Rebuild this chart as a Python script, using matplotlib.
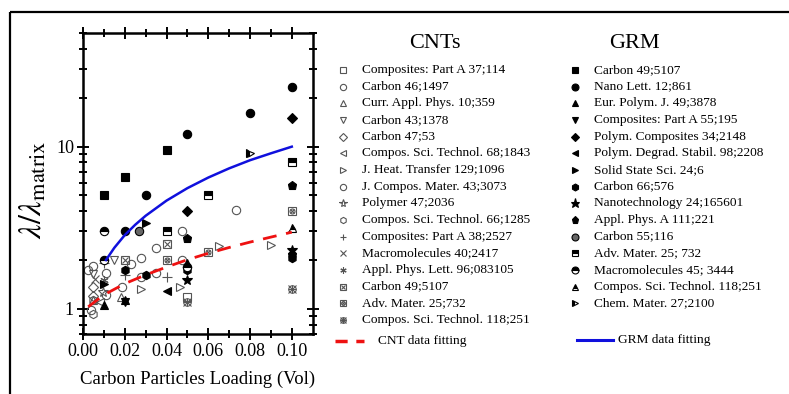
import matplotlib
matplotlib.use('Agg')
import matplotlib.pyplot as plt
import numpy as np

plt.rcParams['font.family'] = 'Liberation Serif'
plt.rcParams['mathtext.fontset'] = 'stix'

# ---- CNT data (open grey symbols) ----
cnt_names = ['Composites: Part A 37;114', 'Carbon 46;1497', 'Curr. Appl. Phys. 10;359',
             'Carbon 43;1378', 'Carbon 47;53', 'Compos. Sci. Technol. 68;1843',
             'J. Heat. Transfer 129;1096', 'J. Compos. Mater. 43;3073', 'Polymer 47;2036',
             'Compos. Sci. Technol. 66;1285', 'Composites: Part A 38;2527', 'Macromolecules 40;2417',
             'Appl. Phys. Lett. 96;083105', 'Carbon 49;5107', 'Adv. Mater. 25;732',
             'Compos. Sci. Technol. 118;251']
cnt_x = [[0.05],
         [0.0025, 0.005, 0.011, 0.023, 0.028, 0.035, 0.0476],
         [0.018, 0.005],
         [0.015, 0.005],
         [0.005, 0.005],
         [0.008],
         [0.028, 0.0464, 0.065, 0.09],
         [0.011, 0.0185, 0.028, 0.035, 0.0476, 0.0735, 0.004],
         [0.0095],
         [0.005, 0.005],
         [0.01, 0.02, 0.04],
         [0.0057],
         [0.01],
         [0.02, 0.04],
         [0.04, 0.06, 0.1],
         [0.05, 0.1]]
cnt_y = [[1.19],
         [1.74, 1.85, 1.66, 1.9, 2.06, 2.38, 2.0],
         [1.18, 1.13],
         [2.0, 1.63],
         [1.37, 1.2],
         [1.1],
         [1.33, 1.37, 2.45, 2.46],
         [1.22, 1.37, 1.57, 1.66, 3.0, 4.06, 0.98],
         [1.27],
         [0.93, 1.13],
         [1.92, 1.61, 1.57],
         [1.53],
         [1.5],
         [2.0, 2.5],
         [2.0, 2.24, 4.0],
         [1.1, 1.33]]

# ---- GRM data (filled black symbols) ----
grm_names = ['Carbon 49;5107', 'Nano Lett. 12;861', 'Eur. Polym. J. 49;3878',
             'Composites: Part A 55;195', 'Polym. Composites 34;2148',
             'Polym. Degrad. Stabil. 98;2208', 'Solid State Sci. 24;6', 'Carbon 66;576',
             'Nanotechnology 24;165601', 'Appl. Phys. A 111;221', 'Carbon 55;116',
             'Adv. Mater. 25; 732', 'Macromolecules 45; 3444', 'Compos. Sci. Technol. 118;251',
             'Chem. Mater. 27;2100']
grm_x = [[0.01, 0.02, 0.04],
         [0.03, 0.05, 0.08, 0.1, 0.02],
         [0.01, 0.02, 0.05],
         [0.02],
         [0.05, 0.1],
         [0.04],
         [0.01, 0.03],
         [0.02, 0.03, 0.05, 0.1],
         [0.05, 0.1],
         [0.05, 0.1, 0.1],
         [0.027],
         [0.04, 0.06, 0.1],
         [0.01, 0.01, 0.05],
         [0.1],
         [0.08]]
grm_y = [[5.0, 6.5, 9.5],
         [5.0, 12.0, 16.1, 23.2, 3.0],
         [1.05, 1.13, 1.91],
         [1.1],
         [4.0, 15.1],
         [1.28],
         [1.43, 3.36],
         [1.74, 1.61, 1.74, 2.07],
         [1.5, 2.3],
         [2.75, 5.8, 2.19],
         [3.0],
         [3.0, 5.0, 8.0],
         [3.0, 2.0, 1.81],
         [3.13],
         [9.1]]

# ---- fitting curves ----
cnt_fit_x = [0.0025, 0.01, 0.02, 0.03, 0.04, 0.05, 0.06, 0.07, 0.08, 0.09, 0.1]
cnt_fit_y = [1.03, 1.22, 1.43, 1.62, 1.81, 2.01, 2.2, 2.39, 2.58, 2.77, 2.97]
grm_fit_x = [0.011, 0.015, 0.02, 0.025, 0.03, 0.04, 0.05, 0.06, 0.07, 0.08, 0.09, 0.1]
grm_fit_y = [2.0, 2.38, 2.85, 3.3, 3.75, 4.65, 5.55, 6.45, 7.35, 8.25, 9.1, 10.0]

grey = '#555555'
# marker layers: (marker, size factor, extra kwargs)
cnt_styles = [
    [('s', 0.9, {})],
    [('o', 1.0, {})],
    [('^', 1.0, {})],
    [('v', 1.0, {})],
    [('D', 0.85, {})],
    [('<', 1.0, {})],
    [('>', 1.0, {})],
    [('o', 1.0, {})],
    [('*', 1.3, {})],
    [('h', 1.0, {})],
    [('+', 1.1, {})],
    [('x', 0.9, {})],
    [((6, 2, 0), 1.0, {})],
    [('s', 0.9, {}), ('x', 0.65, {})],
    [('s', 0.9, {}), ('o', 0.6, {}), ('x', 0.45, {})],
    [('o', 0.9, {}), ('x', 0.9, {}), ('+', 0.9, {})],
]
grm_styles = [
    [('s', 0.9, {})],
    [('o', 1.0, {})],
    [('^', 1.0, {})],
    [('v', 1.0, {})],
    [('D', 0.85, {})],
    [('<', 1.0, {})],
    [('>', 1.0, {})],
    [('h', 1.0, {})],
    [('*', 1.3, {})],
    [('p', 1.05, {})],
    [('o', 1.0, {'mfc': '#666666'})],
    [('s', 0.9, {'fillstyle': 'top', 'mfcalt': 'white'})],
    [('o', 1.0, {'fillstyle': 'top', 'mfcalt': 'white'})],
    [('^', 1.0, {'fillstyle': 'top', 'mfcalt': 'white'})],
    [('>', 1.0, {'fillstyle': 'left', 'mfcalt': 'white'})],
]


def draw(ax, x, y, layers, ms, filled):
    for m, f, kw in layers:
        if filled:
            opts = dict(mfc='black', mec='black', mew=0.8)
        else:
            opts = dict(mfc='none', mec=grey, mew=0.8)
        opts.update(kw)
        ax.plot(x, y, ls='none', marker=m, ms=ms * f, **opts)


fig = plt.figure(figsize=(7.89, 3.94), dpi=100)
ax = fig.add_axes([0.1052, 0.1523, 0.2911, 0.7632])

for i in range(len(cnt_names)):
    draw(ax, cnt_x[i], cnt_y[i], cnt_styles[i], 6, False)
for i in range(len(grm_names)):
    draw(ax, grm_x[i], grm_y[i], grm_styles[i], 6, True)

ax.plot(cnt_fit_x, cnt_fit_y, color='#ee1111', lw=2.0, dashes=(5, 3.5))
ax.plot(grm_fit_x, grm_fit_y, color='#1010dd', lw=1.8)

ax.set_yscale('log')
ax.set_xlim(0, 0.11)
ax.set_ylim(0.7, 50)
ax.set_xticks([0, 0.02, 0.04, 0.06, 0.08, 0.10])
ax.set_xticklabels(['0.00', '0.02', '0.04', '0.06', '0.08', '0.10'])
ax.set_xticks(np.arange(0.01, 0.11, 0.02), minor=True)
ax.set_yticks([1, 10])
ax.set_yticklabels(['1', '10'])
ax.yaxis.set_minor_formatter(matplotlib.ticker.NullFormatter())
for s in ax.spines.values():
    s.set_linewidth(1.8)
ax.tick_params(which='both', direction='inout', top=True, right=True, width=1.4,
               labelsize=13, pad=2)
ax.tick_params(which='major', length=9)
ax.tick_params(which='minor', length=6)
ax.set_xlabel('Carbon Particles Loading (Vol)', fontsize=13.5, labelpad=8)
ax.set_ylabel(r'$\lambda/\lambda_{\mathrm{matrix}}$', fontsize=23)
ax.yaxis.set_label_coords(-0.15, 0.48)

# ---- legend / frame drawn in pixel coordinates ----
lg = fig.add_axes([0, 0, 1, 1], zorder=-1)
lg.set_xlim(0, 789)
lg.set_ylim(394, 0)
lg.axis('off')
lg.plot([10, 789], [12, 12], color='black', lw=1.6, solid_capstyle='butt')
lg.plot([10, 10], [12, 394], color='black', lw=1.6, solid_capstyle='butt')

row0, dy = 70, 16.67
lg.text(435, 43, 'CNTs', fontsize=16, ha='center', va='center')
lg.text(634, 43, 'GRM', fontsize=16, ha='center', va='center')
for i, name in enumerate(cnt_names):
    yy = row0 + i * dy
    draw(lg, [343], [yy], cnt_styles[i], 4.5, False)
    lg.text(362, yy, name, fontsize=9.6, va='center')
for i, name in enumerate(grm_names):
    yy = row0 + i * dy
    draw(lg, [575], [yy], grm_styles[i], 5, True)
    lg.text(594, yy, name, fontsize=9.6, va='center')

lg.plot([335, 364], [341, 341], color='#ee1111', lw=2.5, dashes=(3.5, 2.5))
lg.text(378, 341, 'CNT data fitting', fontsize=9.6, va='center')
lg.plot([577, 613], [340, 340], color='#1010dd', lw=2.2)
lg.text(618, 340, 'GRM data fitting', fontsize=9.6, va='center')

fig.savefig('out.png', dpi=100)
